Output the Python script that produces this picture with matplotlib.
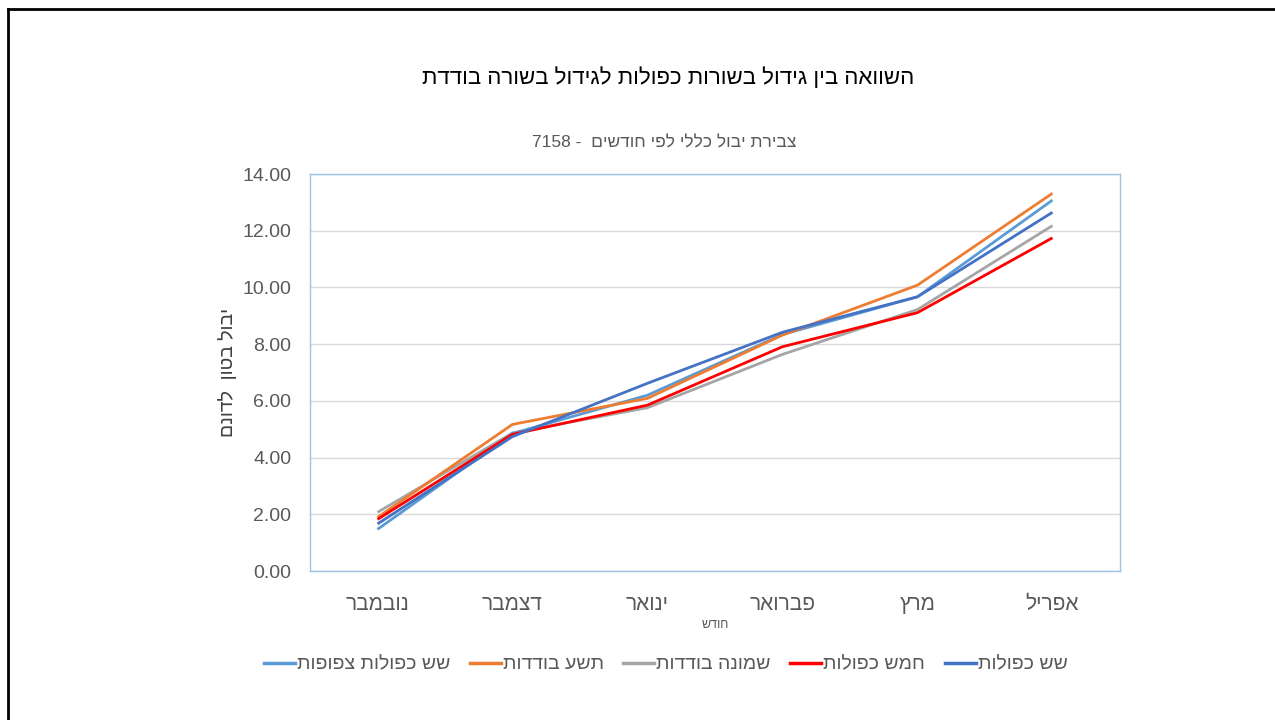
import numpy as np
import matplotlib
matplotlib.use("Agg")
import matplotlib.pyplot as plt
from matplotlib.lines import Line2D

plt.rcParams['font.family'] = ['Liberation Sans', 'DejaVu Sans']


def heb(s):
    # matplotlib has no bidi support, so put Hebrew in visual order
    return s[::-1]


months = ["נובמבר", "דצמבר", "ינואר", "פברואר", "מרץ", "אפריל"]

six_double = [1.66, 4.74, 6.62, 8.42, 9.67, 12.65]
five_double = [1.82, 4.82, 5.85, 7.91, 9.11, 11.75]
eight_single = [2.07, 4.87, 5.76, 7.64, 9.22, 12.18]
nine_single = [1.89, 5.17, 6.09, 8.32, 10.08, 13.32]
six_dense = [1.47, 4.85, 6.20, 8.34, 9.67, 13.08]

series_names = ["שש כפולות צפופות", "תשע בודדות", "שמונה בודדות", "חמש כפולות", "שש כפולות"]
series_vals = [six_dense, nine_single, eight_single, five_double, six_double]
colors = ["#5B9BD5", "#ED7D31", "#A5A5A5", "#FF0000", "#4472C4"]
zorders = [3, 4, 2, 5, 6]

title = "השוואה בין גידול בשורות כפולות לגידול בשורה בודדת"
subtitle_heb = "צבירת יבול כללי לפי חודשים"
subtitle_num = "7158"
xlabel = "חודש"
ylabel = "יבול בטון  לדונם"

fig = plt.figure(figsize=(12.75, 7.2), dpi=100)
ax = fig.add_axes([0.2431, 0.2069, 0.6353, 0.5514])

x = np.arange(len(months))
for name, vals, c, z in zip(series_names, series_vals, colors, zorders):
    ax.plot(x, vals, color=c, lw=2.0, zorder=z, solid_capstyle='butt')

ax.set_xlim(-0.5, len(months) - 0.5)
ax.set_ylim(0, 14)
ax.set_yticks(np.arange(0, 14.01, 2))
ax.set_yticklabels([f"{v:.2f}" for v in np.arange(0, 14.01, 2)])
ax.set_xticks(x)
ax.set_xticklabels([heb(m) for m in months], fontsize=15)
ax.tick_params(axis='both', length=0, colors='#595959')
ax.tick_params(axis='y', labelsize=14, pad=13.5)
ax.tick_params(axis='x', pad=17)
ax.grid(axis='y', color='#D9D9D9', lw=1.0)
ax.set_axisbelow(True)
for sp in ax.spines.values():
    sp.set_color('#9DC3E6')
    sp.set_linewidth(1.0)

ax.set_xlabel(heb(xlabel), fontsize=9, color='#595959', labelpad=4)
ax.set_ylabel(heb(ylabel), fontsize=14, color='#404040', labelpad=4)

fig.text(0.524, 0.892, heb(title), ha='center', va='center', fontsize=16, color='black')
fig.text(0.521, 0.802, subtitle_num + " -  " + heb(subtitle_heb), ha='center', va='center',
         fontsize=12.5, color='#595959')

handles = [Line2D([], [], color=c, lw=2.5) for c in colors]
fig.legend(handles, [heb(n) for n in series_names], loc='center', ncol=5,
           bbox_to_anchor=(0.522, 0.077), frameon=False, fontsize=14,
           handlelength=1.6, handletextpad=0.1, columnspacing=1.0,
           labelcolor='#595959')

# outer frame (top and left edges visible)
fig.add_artist(Line2D([0.0063, 0.0063], [0, 0.9875], transform=fig.transFigure, color='black', lw=2))
fig.add_artist(Line2D([0.0063, 1.0], [0.9875, 0.9875], transform=fig.transFigure, color='black', lw=2))

fig.savefig("out.png", dpi=100)
